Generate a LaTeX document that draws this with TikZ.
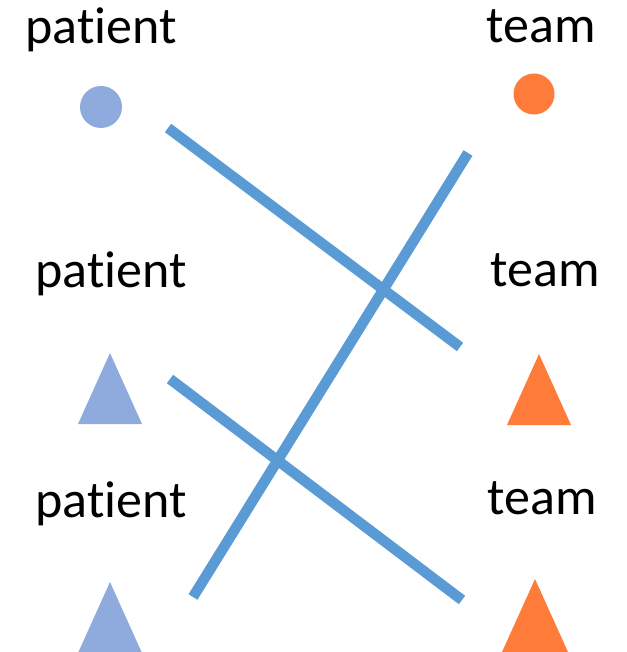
\documentclass[tikz,border=0pt]{standalone}
\usepackage{fontspec}
\setmainfont[Ligatures=CommonOff]{Carlito}
\usepackage{tikz}
\definecolor{ptblue}{HTML}{8FAADC}
\definecolor{tmorange}{HTML}{FF7B3A}
\definecolor{linkblue}{HTML}{5B9BD5}
\tikzset{
  lbl/.style={anchor=base,inner sep=0pt,font=\fontsize{52}{60}\selectfont},
  dot/.style={circle,inner sep=0pt,minimum size=#1},
  link/.style={linkblue,line width=10.5pt}
}

\begin{document}
\begin{tikzpicture}[x=1pt,y=-1pt]
\useasboundingbox (0,0) rectangle (626,652);

% labels
\node[lbl](p1) at (101,44) {patient};
\node[lbl](t1) at (541,43) {team};
\node[lbl](p2) at (111,287) {patient};
\node[lbl](t2) at (545,286) {team};
\node[lbl](p3) at (111,517) {patient};
\node[lbl](t3) at (542,514) {team};

% circles
\node[dot=42pt,fill=ptblue](pc) at (101,107) {};
\node[dot=41pt,fill=tmorange](tc) at (534,94) {};

% triangles
\fill[ptblue] (110,353) -- (142,424) -- (78,424) -- cycle;
\fill[tmorange] (539,354) -- (571,425) -- (507,425) -- cycle;
\fill[ptblue] (110,582) -- (142,653) -- (78,653) -- cycle;
\fill[tmorange] (535,579) -- (568,652) -- (502,652) -- cycle;

% links
\coordinate (a1) at (168,128);
\coordinate (b1) at (460,347);
\coordinate (a2) at (193,597);
\coordinate (b2) at (468,153);
\coordinate (a3) at (170,379);
\coordinate (b3) at (462,600);
\draw[link](a1)--(b1);
\draw[link](a2)--(b2);
\draw[link](a3)--(b3);

\end{tikzpicture}
\end{document}
